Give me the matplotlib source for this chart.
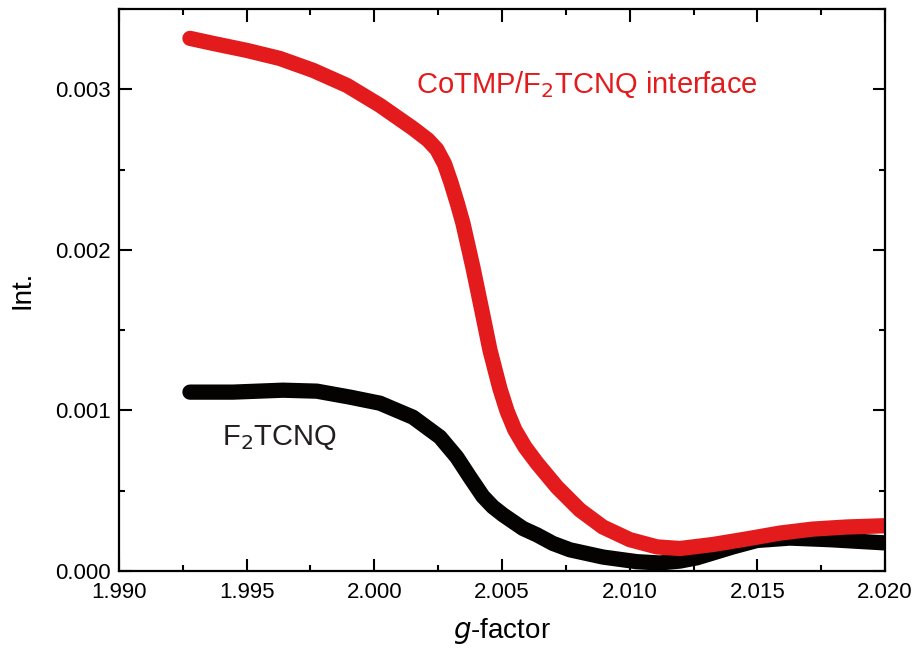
import matplotlib.pyplot as plt
from matplotlib.ticker import MultipleLocator

plt.rcParams['font.family'] = ['Liberation Sans', 'DejaVu Sans']

# CoTMP/F2TCNQ interface (red)
g_red = [1.99278, 1.99368, 1.99501, 1.99630, 1.99760, 1.99893, 2.00022, 2.00151,
         2.00210, 2.00245, 2.00275, 2.00300, 2.00325, 2.00347, 2.00386, 2.00421,
         2.00453, 2.00492, 2.00520, 2.00550, 2.00590, 2.00637, 2.00715, 2.00805,
         2.00895, 2.01001, 2.01107, 2.01197, 2.01326, 2.01459, 2.01588, 2.01717,
         2.01850, 2.02000]
int_red = [0.003317, 0.003286, 0.003242, 0.003192, 0.003118, 0.003024, 0.002900, 0.002757,
           0.002685, 0.002625, 0.002535, 0.002420, 0.002290, 0.002166, 0.001892, 0.001624,
           0.001375, 0.001135, 0.000995, 0.000880, 0.000772, 0.000672, 0.000523, 0.000380,
           0.000274, 0.000195, 0.000150, 0.000140, 0.000165, 0.000200, 0.000236, 0.000261,
           0.000274, 0.000282]

# F2TCNQ (black)
g_blk = [1.99278, 1.99446, 1.99642, 1.99775, 1.99904, 2.00022, 2.00151, 2.00257,
         2.00323, 2.00374, 2.00425, 2.00464, 2.00504, 2.00582, 2.00637, 2.00699,
         2.00766, 2.00895, 2.01028, 2.01118, 2.01197, 2.01263, 2.01404, 2.01498,
         2.01627, 2.01784, 2.02000]
int_blk = [0.001114, 0.001114, 0.001126, 0.001120, 0.001083, 0.001045, 0.000958, 0.000834,
           0.000709, 0.000585, 0.000465, 0.000400, 0.000350, 0.000265, 0.000225, 0.000172,
           0.000132, 0.000087, 0.000058, 0.000050, 0.000062, 0.000082, 0.000150, 0.000190,
           0.000205, 0.000195, 0.000175]

fig = plt.figure(figsize=(9.2, 6.57), dpi=100)
ax = fig.add_axes([0.1293, 0.1309, 0.8327, 0.8554])

ax.plot(g_blk, int_blk, color='#050302', lw=11, solid_capstyle='round', solid_joinstyle='round')
ax.plot(g_red, int_red, color='#e31b1d', lw=11, solid_capstyle='round', solid_joinstyle='round')

ax.text(2.00832, 0.003031, 'CoTMP/F$_2$TCNQ interface', color='#e31b1d', fontsize=21,
        ha='center', va='center')
ax.text(1.99630, 0.000834, 'F$_2$TCNQ', color='#231f20', fontsize=21, ha='center', va='center')

ax.set_xlim(1.990, 2.020)
ax.set_ylim(0, 0.0035)
ax.xaxis.set_major_locator(MultipleLocator(0.005))
ax.xaxis.set_minor_locator(MultipleLocator(0.0025))
ax.yaxis.set_major_locator(MultipleLocator(0.001))
ax.yaxis.set_minor_locator(MultipleLocator(0.0005))
ax.xaxis.set_major_formatter(plt.FormatStrFormatter('%.3f'))
ax.yaxis.set_major_formatter(plt.FormatStrFormatter('%.3f'))

ax.tick_params(which='both', direction='in', top=True, right=True, width=1.5, labelsize=16)
ax.tick_params(which='major', length=9, pad=8)
ax.tick_params(which='minor', length=4.5)
ax.tick_params(axis='y', pad=6)
for s in ax.spines.values():
    s.set_linewidth(1.6)

ax.set_xlabel('$\\it{g}$-factor', fontsize=20, labelpad=9)
ax.set_ylabel('Int.', fontsize=20, labelpad=14)

fig.savefig('out.png', dpi=100)
